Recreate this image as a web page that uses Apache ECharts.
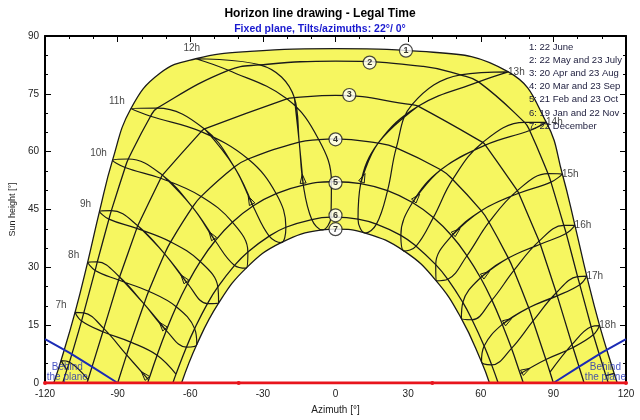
<!DOCTYPE html>
<html lang="en">
<head>
  <meta charset="UTF-8">
  <title>Horizon line drawing - Legal Time</title>
  <style>
    html,
    body {
      padding: 0;
      margin: 0;
      background: #fff;
    }
    #chart {
      width: 640px;
      height: 420px;
    }
  </style>
  <script src="https://cdn.jsdelivr.net/npm/echarts@6/dist/echarts.min.js"></script>
</head>
<body>
  <div id="chart"></div>
  <script>
    // sun position [azimuth, height] at each legal hour 6h..19h (null = sun below horizon)
    const hours = [6, 7, 8, 9, 10, 11, 12, 13, 14, 15, 16, 17, 18, 19]
    const jun22 = [[-113.4, 5.8], [-107.6, 18.3], [-102.4, 31.3], [-97.5, 44.5], [-92.1, 57.8], [-84.5, 71.2], [-57.7, 84.1], [71.4, 80.7], [87.1, 67.6], [93.7, 54.2], [98.9, 40.9], [103.8, 27.7], [109.1, 14.9], [115.1, 2.5]]
    const may22 = [[-109.9, 5.4], [-104.0, 18.2], [-98.4, 31.4], [-92.6, 44.7], [-85.6, 58.1], [-73.7, 71.3], [-31.2, 82.5], [59.1, 78.1], [80.2, 65.5], [89.0, 52.1], [95.3, 38.8], [100.9, 25.5], [106.5, 12.5], null]
    const jul23 = [[-111.0, 3.4], [-104.9, 16.1], [-99.3, 29.2], [-93.6, 42.5], [-86.9, 55.9], [-76.4, 69.2], [-44.3, 81.1], [51.6, 79.9], [78.1, 67.6], [87.8, 54.3], [94.3, 40.9], [100.0, 27.6], [105.6, 14.6], [111.7, 1.9]]
    const apr20 = [[-102.2, 0.9], [-95.7, 14.1], [-89.2, 27.5], [-81.7, 40.8], [-71.5, 53.9], [-54.1, 65.9], [-17.0, 74.0], [34.1, 71.8], [61.9, 61.7], [75.7, 49.2], [84.6, 36.0], [91.6, 22.6], [98.1, 9.2], null]
    const aug23 = [null, [-96.1, 13.3], [-89.6, 26.7], [-82.1, 40.1], [-72.2, 53.1], [-55.5, 65.2], [-20.1, 73.7], [31.6, 72.2], [60.8, 62.4], [75.1, 49.9], [84.1, 36.8], [91.2, 23.4], [97.7, 10.0], null]
    const mar20 = [null, [-86.3, 7.3], [-79.1, 20.5], [-70.6, 33.5], [-59.1, 45.6], [-41.8, 56.0], [-15.0, 62.5], [17.6, 62.2], [43.5, 55.3], [60.2, 44.7], [71.4, 32.4], [79.8, 19.5], [86.9, 6.1], null]
    const sep23 = [null, [-84.6, 10.6], [-77.2, 23.8], [-68.1, 36.6], [-55.5, 48.4], [-36.1, 58.1], [-6.9, 63.1], [25.1, 61.0], [48.4, 52.8], [63.4, 41.7], [73.7, 29.2], [81.6, 16.1], [88.6, 2.8], null]
    const feb21 = [null, [-77.2, 0.8], [-69.9, 13.6], [-61.1, 25.8], [-49.7, 36.9], [-34.1, 45.9], [-13.3, 51.3], [10.4, 51.7], [31.8, 46.8], [48.0, 38.2], [59.9, 27.3], [68.9, 15.2], [76.3, 2.4], null]
    const oct23 = [null, [-73.7, 7.2], [-65.8, 19.8], [-55.9, 31.5], [-42.6, 41.7], [-24.5, 49.1], [-1.7, 52.2], [21.5, 49.9], [40.4, 42.9], [54.3, 33.0], [64.6, 21.5], [72.7, 9.0], null, null]
    const jan19 = [null, null, [-61.6, 9.3], [-52.9, 20.6], [-41.7, 30.5], [-27.4, 38.1], [-9.8, 42.4], [9.3, 42.5], [27.0, 38.3], [41.4, 30.7], [52.6, 20.9], [61.4, 9.6], null, null]
    const nov22 = [null, [-65.9, 2.3], [-58.2, 14.1], [-48.6, 24.9], [-36.2, 34.0], [-20.5, 40.4], [-1.9, 43.0], [16.9, 41.2], [33.3, 35.5], [46.4, 26.9], [56.4, 16.4], [64.5, 4.7], null, null]
    const dec22 = [null, null, [-57.3, 10.0], [-48.3, 20.7], [-36.9, 29.8], [-22.5, 36.4], [-5.5, 39.7], [12.3, 38.9], [28.4, 34.2], [41.6, 26.5], [52.0, 16.7], [60.3, 5.5], null, null]

    // per sun path: sunrise azimuth, noon height, extra points near the top
    const riseAz = [116.4, 112.7, 102.7, 90, 77.6, 67.2, 63.6]
    const noonHeight = [86.7, 83.5, 74.6, 63.3, 52.2, 43.0, 39.9]
    const nearNoon = [[[-72.4, 80.4], [-35.3, 86.0], [35.3, 86.0]], [[36.3, 82.1]], [], [], [], [], []]
    const curveDates = ['22 June', '22 May and 23 July', '20 Apr and 23 Aug', '20 Mar and 23 Sep', '21 Feb and 23 Oct', '19 Jan and 22 Nov', '22 December']
    const tagPos = [[29.1, 86.2], [14.1, 83.1], [5.7, 74.7], [0, 63.2], [0, 51.9], [0, 43.5], [0, 39.9]]

    const horizon = [[-120, 0], [-40, 0], [40, 0], [120, 0]]
    const behindLeft = [[-120, 11.4], [-110, 7.9], [-100, 4.0], [-90, 0]]
    const behindRight = [[90, 0], [100, 4.0], [110, 7.9], [120, 11.4]]

    const FONT = 'Liberation Sans, Arial, sans-serif'
    const INK = '#1a1a1a'
    const YELLOW = '#f6f660'
    const BLUE = '#1b2bb5'

    const pairs = [[jun22], [may22, jul23], [apr20, aug23], [mar20, sep23], [feb21, oct23], [jan19, nov22], [dec22]]
    const curves = pairs.map((days, k) => {
      const pts = [[-riseAz[k], 0], [0, noonHeight[k]], [riseAz[k], 0]].concat(nearNoon[k])
      days.forEach(d => d.forEach(p => { if (p) pts.push(p) }))
      return pts.sort((a, b) => a[0] - b[0])
    })

    // hour lines (analemmas): one point per date, in calendar order, closed over the year
    const yearLoop = [jun22, may22, apr20, mar20, feb21, jan19, dec22, nov22, oct23, sep23, aug23, jul23]
    const hourSegs = []
    hours.forEach((h, i) => {
      const ring = yearLoop.map(d => d[i])
      const n = ring.length
      if (ring.every(Boolean)) {
        // go round once and overlap a little, so both turning points are smooth
        const seq = []
        for (let k = 2; k <= n + 4; k++) seq.push(ring[k % n])
        hourSegs.push(seq)
        return
      }
      let s = ring.findIndex((p, k) => p && !ring[(k + n - 1) % n])
      let seg = []
      for (let k = 0; k < n; k++) {
        const p = ring[(s + k) % n]
        if (p) {
          seg.push(p)
        } else {
          if (seg.length > 1) hourSegs.push(seg)
          seg = []
        }
      }
      if (seg.length > 1) hourSegs.push(seg)
    })

    const arrowData = hours.map((h, i) => (feb21[i] && mar20[i]) ? feb21[i].concat(mar20[i]) : null).filter(Boolean)
    const hourTags = hours.map((h, i) => ({ value: jun22[i], h: h })).filter(t => t.h > 6 && t.h < 19)
    const tagOffset = h => h < 12 ? [-14, 3] : (h === 12 ? [-4, 0] : [8, 10])

    const series = []
    series.push({
      type: 'line', data: curves[0], smooth: 0.45, symbol: 'none', z: 1,
      lineStyle: { color: INK, width: 1.3 },
      areaStyle: { color: YELLOW, opacity: 1 }
    })
    series.push({
      type: 'line', data: curves[6], smooth: 0.45, symbol: 'none', z: 2,
      lineStyle: { color: INK, width: 1.3 },
      areaStyle: { color: '#ffffff', opacity: 1 }
    })
    curves.slice(1, 6).forEach(c => series.push({
      type: 'line', data: c, smooth: 0.45, symbol: 'none', z: 3,
      lineStyle: { color: INK, width: 1.3 }
    }))
    hourSegs.forEach(s => series.push({
      type: 'line', data: s, smooth: 0.4, symbol: 'none', z: 3,
      lineStyle: { color: INK, width: 1.2 }
    }))
    series.push({
      type: 'custom', z: 4, data: arrowData, encode: { x: [0, 2], y: [1, 3] },
      renderItem: (params, api) => {
        const a = api.coord([api.value(0), api.value(1)])
        const b = api.coord([api.value(2), api.value(3)])
        const dx = b[0] - a[0]
        const dy = b[1] - a[1]
        const len = Math.hypot(dx, dy)
        const ux = dx / len
        const uy = dy / len
        const tip = [a[0] + ux * 11, a[1] + uy * 11]
        const base = [tip[0] - ux * 9, tip[1] - uy * 9]
        return {
          type: 'polygon',
          shape: { points: [tip, [base[0] - uy * 3, base[1] + ux * 3], [base[0] + uy * 3, base[1] - ux * 3]] },
          style: { fill: 'none', stroke: INK, lineWidth: 1 }
        }
      }
    })
    series.push({
      type: 'line', data: behindLeft, symbol: 'none', z: 5,
      lineStyle: { color: BLUE, width: 2 }
    })
    series.push({
      type: 'line', data: behindRight, symbol: 'none', z: 5,
      lineStyle: { color: BLUE, width: 2 }
    })
    series.push({
      type: 'line', data: horizon, symbol: 'circle', symbolSize: 4, z: 6,
      lineStyle: { color: '#e8141c', width: 3 },
      itemStyle: { color: '#e8141c' }
    })
    series.push({
      type: 'scatter', z: 7, symbolSize: 0,
      data: [[-110.8, 2.9], [111.5, 2.9]],
      label: {
        show: true, position: 'inside', formatter: 'Behind\nthe plane',
        color: BLUE, fontSize: 10, lineHeight: 10, fontFamily: FONT
      }
    })
    series.push({
      type: 'scatter', z: 8, symbol: 'circle', symbolSize: 13,
      data: tagPos.map((p, i) => ({ value: p, name: String(i + 1) })),
      itemStyle: { color: '#ffffff', borderColor: INK, borderWidth: 1.2 },
      label: { show: true, position: 'inside', formatter: '{b}', color: '#000', fontSize: 9, fontWeight: 'bold', fontFamily: FONT }
    })
    series.push({
      type: 'scatter', z: 8, symbolSize: 0,
      data: hourTags.map(t => ({
        value: t.value, name: t.h + 'h',
        label: { offset: tagOffset(t.h) }
      })),
      label: { show: true, position: 'top', formatter: '{b}', color: '#111', fontSize: 10, fontFamily: FONT }
    })

    const frame = { show: true, onZero: false, lineStyle: { color: '#000', width: 2 } }
    const option = {
      animation: false,
      title: {
        text: 'Horizon line drawing - Legal Time',
        subtext: 'Fixed plane, Tilts/azimuths: 22°/ 0°',
        left: 'center', top: 3, itemGap: 4,
        textStyle: { fontSize: 12, fontWeight: 'bold', color: '#000', fontFamily: FONT },
        subtextStyle: { fontSize: 10.5, fontWeight: 'bold', color: '#1a1ad0', fontFamily: FONT }
      },
      grid: { left: 34, right: 14, top: 36, bottom: 32 },
      xAxis: [{
        type: 'value', min: -120, max: 120, interval: 30, position: 'bottom',
        name: 'Azimuth [°]', nameLocation: 'middle', nameGap: 22,
        nameTextStyle: { fontSize: 10, color: '#222', fontFamily: FONT },
        axisLine: frame,
        axisTick: { inside: true, length: 6, lineStyle: { color: '#000' } },
        minorTick: { show: true, splitNumber: 3, length: 3, lineStyle: { color: '#000' } },
        axisLabel: { fontSize: 10, color: '#222', margin: 6, fontFamily: FONT },
        splitLine: { show: false }
      }, {
        type: 'value', min: -120, max: 120, interval: 30, position: 'top',
        axisLine: frame,
        axisTick: { inside: true, length: 6, lineStyle: { color: '#000' } },
        minorTick: { show: true, splitNumber: 3, length: 3, lineStyle: { color: '#000' } },
        axisLabel: { show: false },
        splitLine: { show: false }
      }],
      yAxis: [{
        type: 'value', min: 0, max: 90, interval: 15, position: 'left',
        name: 'Sun height [°]', nameLocation: 'middle', nameGap: 22, nameRotate: 90,
        nameTextStyle: { fontSize: 9, color: '#222', fontFamily: FONT },
        axisLine: frame,
        axisTick: { inside: true, length: 6, lineStyle: { color: '#000' } },
        minorTick: { show: true, splitNumber: 3, length: 3, lineStyle: { color: '#000' } },
        axisLabel: { fontSize: 10, color: '#222', margin: 6, fontFamily: FONT },
        splitLine: { show: false }
      }, {
        type: 'value', min: 0, max: 90, interval: 15, position: 'right',
        axisLine: frame,
        axisTick: { inside: true, length: 6, lineStyle: { color: '#000' } },
        minorTick: { show: true, splitNumber: 3, length: 3, lineStyle: { color: '#000' } },
        axisLabel: { show: false },
        splitLine: { show: false }
      }],
      graphic: curveDates.map((t, i) => ({
        type: 'text', left: 529, top: 42 + i * 13.2, z: 100,
        style: { text: (i + 1) + ': ' + t, fontSize: 9.5, fill: '#1c1c3c', fontFamily: FONT }
      })),
      series: series
    }

    const chart = echarts.init(document.getElementById('chart'))
    chart.setOption(option)
  </script>
</body>
</html>
